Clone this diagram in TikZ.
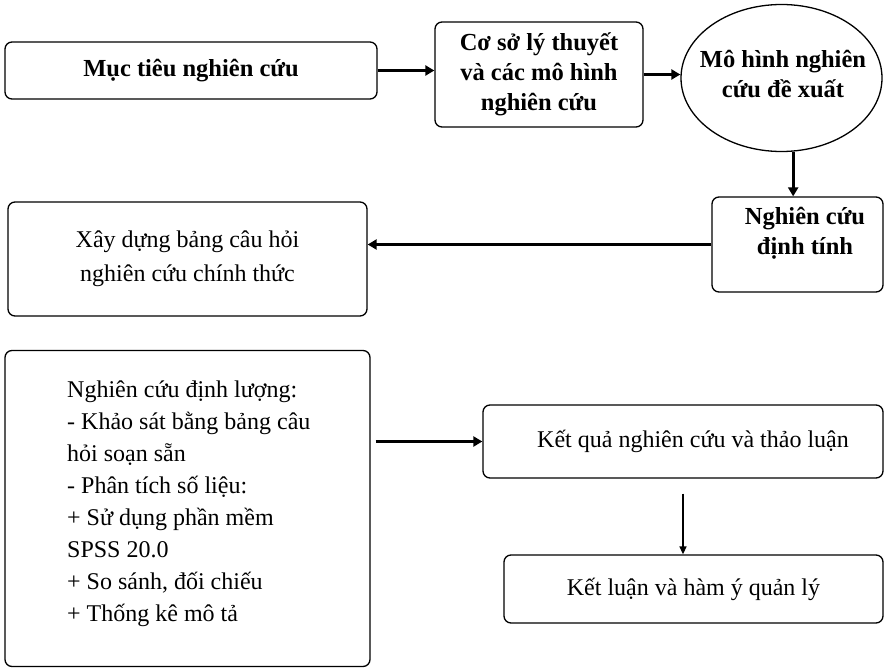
\documentclass[tikz,border=0pt]{standalone}
\usepackage{fontspec}
\setmainfont{Liberation Serif}
\usetikzlibrary{arrows.meta,shapes.geometric}
\begin{document}
\begin{tikzpicture}[x=1pt,y=-1pt,
  every node/.style={font=\fontsize{24}{32}\selectfont, inner sep=0pt},
  box/.style={draw, line width=1.3pt, rounded corners=7pt, align=center},
  btext/.style={font=\fontsize{24.5}{30}\selectfont\bfseries, align=center},
  thickarrow/.style={line width=2.8pt, -{Triangle[length=9pt,width=10pt]}},
  thinarrow/.style={line width=1.4pt, -{Triangle[length=8pt,width=7pt]}}]
\useasboundingbox (0,0) rectangle (884,669);

\node[box, btext, minimum width=372pt, minimum height=57pt] (b1) at (191,70.5) {Mục tiêu nghiên cứu};
\node[box, btext, minimum width=208pt, minimum height=105pt] (b2) at (539,74.5) {Cơ sở lý thuyết\\và các mô hình\\nghiên cứu};
\node[draw, line width=1.3pt, ellipse, inner sep=0pt, minimum width=201pt, minimum height=147pt] (ell) at (781.5,78) {};
\node[btext] (te) at (783,74) {Mô hình nghiên\\cứu đề xuất};
\node[box, minimum width=171pt, minimum height=95pt] (b4) at (797.5,244.5) {};
\node[btext] (t4) at (805,233) {Nghiên cứu\\định tính};
\node[box, minimum width=359pt, minimum height=114pt, font=\fontsize{24}{34}\selectfont] (b5) at (187.5,259) {Xây dựng bảng câu hỏi\\nghiên cứu chính thức};
\node[box, minimum width=365pt, minimum height=316pt] (b6) at (187.5,508.5) {};
\node[anchor=north west, align=left, font=\fontsize{24}{32}\selectfont] (t6) at (67,381) {Nghiên cứu định lượng:\\- Khảo sát bằng bảng câu\\hỏi soạn sẵn\\- Phân tích số liệu:\\+ Sử dụng phần mềm\\SPSS 20.0\\+ So sánh, đối chiếu\\+ Thống kê mô tả};
\node[box, minimum width=400pt, minimum height=73pt] (b7) at (683,441.5) {\hspace*{20pt}Kết quả nghiên cứu và thảo luận};
\node[box, minimum width=379pt, minimum height=68pt] (b8) at (693.5,589) {Kết luận và hàm ý quản lý};

\draw[thickarrow] (b1.east) -- (b1.east -| b2.west);
\draw[thickarrow] (b2.east) -- (b2.east -| ell.west);
\draw[thickarrow] (ell.-81) -- (ell.-81 |- b4.north);
\draw[thickarrow] (b4.west) -- (b4.west -| b5.east);
\draw[thickarrow] ([xshift=5pt]b7.west -| b6.east) -- (b7.west);
\draw[thinarrow] ([yshift=-15pt]b7.south) -- (b8.north -| b7.south);
\end{tikzpicture}
\end{document}
